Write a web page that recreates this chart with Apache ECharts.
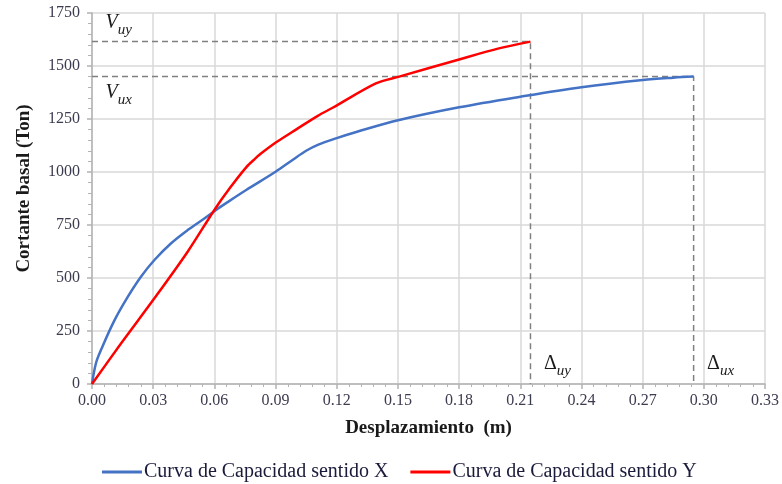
<!DOCTYPE html>
<html>
<head>
<meta charset="utf-8">
<script src="https://cdn.jsdelivr.net/npm/echarts@6/dist/echarts.min.js"></script>
<style>
html,body{margin:0;padding:0;background:#fff;}
#chart{width:782px;height:484px;}
</style>
</head>
<body>
<div id="chart"></div>
<script>
// ---- data ----
var seriesNames = ['Curva de Capacidad sentido X', 'Curva de Capacidad sentido Y'];
var dispX  = [0, 0.002, 0.0046, 0.011, 0.0176, 0.024, 0.0306, 0.0388, 0.0469, 0.0551, 0.0608, 0.0665, 0.0756, 0.09, 0.0985, 0.105, 0.1107, 0.12, 0.13, 0.1506, 0.18, 0.21, 0.24, 0.27, 0.285, 0.295];
var shearX = [0, 100, 165, 300, 412, 506, 585, 664, 726, 781, 821, 858, 915, 1001, 1058, 1100, 1128, 1160, 1190, 1245, 1305, 1355, 1400, 1434, 1445, 1450];
var dispY  = [0, 0.0143, 0.0306, 0.0469, 0.06, 0.0675, 0.0756, 0.08, 0.083, 0.0903, 0.1, 0.1107, 0.118, 0.1392, 0.1506, 0.18, 0.1995, 0.215];
var shearY = [0, 192, 404, 624, 821, 923, 1022, 1063, 1088, 1140, 1200, 1265, 1303, 1418, 1450, 1531, 1583, 1615];
var ultimateV = { x: 1450, y: 1615 };   // Vux, Vuy
var ultimateD = { x: 0.295, y: 0.215 }; // Δux, Δuy
var xTicks = { min: 0, max: 0.33, step: 0.03 };
var yTicks = { min: 0, max: 1750, step: 250 };

function pairs(a, b) { return a.map(function (v, i) { return [v, b[i]]; }); }

var serif = '"Liberation Serif", "Times New Roman", serif';
var tickColor = '#3c3c50';
var gridColor = '#d9d9d9';
var axisColor = '#b3b3b3';
var dashColor = '#808080';

var rich = {
  big:  { fontFamily: serif, fontSize: 20, fontStyle: 'italic', color: '#1a1a1a', verticalAlign: 'bottom' },
  delta:{ fontFamily: serif, fontSize: 20, color: '#1a1a1a', verticalAlign: 'bottom' },
  sub:  { fontFamily: serif, fontSize: 15, fontStyle: 'italic', color: '#1a1a1a', verticalAlign: 'bottom', padding: [0, 0, -5, 0] }
};

function dashedSeries(v, d, vLab, dLab, vOffY) {
  return {
    type: 'line', silent: true, symbol: 'circle', symbolSize: 1, showSymbol: true, showAllSymbol: true,
    animation: false, z: 1,
    itemStyle: { color: 'rgba(0,0,0,0)', borderWidth: 0 },
    lineStyle: { color: dashColor, width: 1.5, type: [6, 4] },
    label: { show: false },
    data: [
      { value: [0, v], label: { show: true, position: 'right', offset: [8, vOffY], formatter: vLab, rich: rich } },
      [d, v],
      { value: [d, 0], label: { show: true, position: 'right', offset: [8, -20], formatter: dLab, rich: rich } }
    ]
  };
}

var chart = echarts.init(document.getElementById('chart'));
chart.setOption({
  animation: false,
  backgroundColor: '#ffffff',
  grid: { left: 92, right: 15, top: 13, bottom: 100 },
  legend: {
    data: seriesNames,
    left: 97, top: 457,
    itemWidth: 40, itemHeight: 3, itemGap: 22,
    textStyle: { fontFamily: serif, fontSize: 20, color: '#1a1a3a', padding: [0, 0, 0, -3] },
    icon: 'rect'
  },
  xAxis: {
    type: 'value', min: xTicks.min, max: xTicks.max, interval: xTicks.step,
    name: 'Desplazamiento  (m)', nameLocation: 'middle', nameGap: 35,
    nameTextStyle: { fontFamily: serif, fontSize: 19, fontWeight: 'bold', color: '#1a1a1a' },
    axisLine: { show: true, onZero: false, lineStyle: { color: axisColor, width: 1.5 } },
    axisTick: { show: true, inside: false, length: 5, lineStyle: { color: axisColor, width: 1.5 } },
    minorTick: { show: true, splitNumber: 5, length: 3, lineStyle: { color: axisColor, width: 1 } },
    axisLabel: { fontFamily: serif, fontSize: 16, color: tickColor, margin: 9,
      formatter: function (v) { return v.toFixed(2); } },
    splitLine: { show: true, lineStyle: { color: gridColor, width: 1.5 } }
  },
  yAxis: {
    type: 'value', min: yTicks.min, max: yTicks.max, interval: yTicks.step,
    name: 'Cortante basal (Ton)', nameLocation: 'middle', nameGap: 58,
    nameTextStyle: { fontFamily: serif, fontSize: 19, fontWeight: 'bold', color: '#1a1a1a', padding: [0, 0, 0, 20] },
    axisLine: { show: true, onZero: false, lineStyle: { color: axisColor, width: 1.5 } },
    axisTick: { show: true, inside: false, length: 5, lineStyle: { color: axisColor, width: 1.5 } },
    minorTick: { show: true, splitNumber: 5, length: 4, lineStyle: { color: axisColor, width: 1 } },
    axisLabel: { fontFamily: serif, fontSize: 16, color: tickColor, margin: 12,
      formatter: function (v) { return String(v); } },
    splitLine: { show: true, lineStyle: { color: gridColor, width: 1.5 } }
  },
  series: [
    dashedSeries(ultimateV.y, ultimateD.y, '{big|V}{sub|uy}', '{delta|Δ}{sub|uy}', -19),
    dashedSeries(ultimateV.x, ultimateD.x, '{big|V}{sub|ux}', '{delta|Δ}{sub|ux}', 16),
    {
      name: seriesNames[0], type: 'line', symbol: 'none', smooth: 0.35, z: 3,
      color: '#4472C4', lineStyle: { color: '#4472C4', width: 2.5 },
      data: pairs(dispX, shearX)
    },
    {
      name: seriesNames[1], type: 'line', symbol: 'none', smooth: 0.3, z: 4,
      color: '#FF0000', lineStyle: { color: '#FF0000', width: 2.5 },
      data: pairs(dispY, shearY)
    }
  ]
});
</script>
</body>
</html>
